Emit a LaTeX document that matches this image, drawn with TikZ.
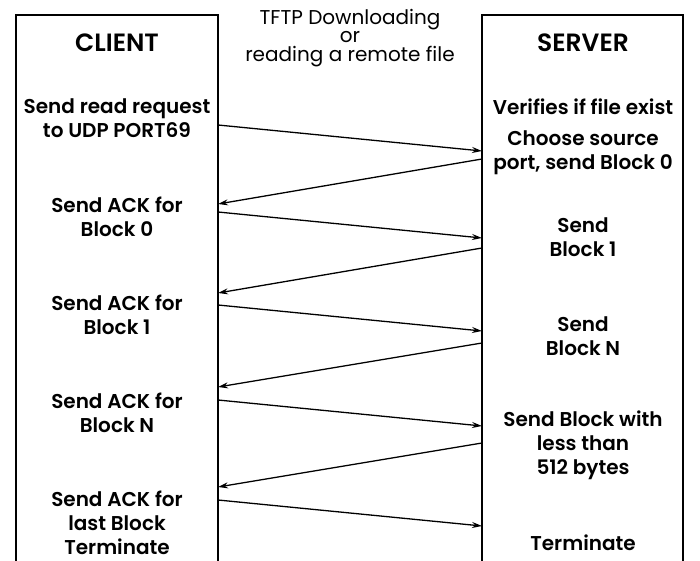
\documentclass[tikz,border=0pt]{standalone}
\usepackage{fontspec}
\setmainfont{Poppins}[BoldFont={* SemiBold}]
\usetikzlibrary{arrows.meta}
\tikzset{
  lab/.style={font=\bfseries\fontsize{20}{24}\selectfont, align=center, inner sep=0pt},
  head/.style={font=\bfseries\fontsize{25}{28}\selectfont, inner sep=0pt},
  ttl/.style={font=\fontsize{20}{18.5}\selectfont, align=center, inner sep=0pt},
  msg/.style={-{Stealth[length=10pt,width=6pt]}, line width=1.3pt},
  box/.style={line width=2pt}
}
\begin{document}
\begin{tikzpicture}[x=1pt,y=-1pt]
\useasboundingbox (0,0) rectangle (700,561);
% boxes
\draw[box] (16,562) -- (16,15) -- (218,15) -- (218,562);
\draw[box] (482,562) -- (482,15) -- (683,15) -- (683,562);
% headings and title
\node[head] (clienthd) at (117,43) {CLIENT};
\node[head] (serverhd) at (583,43) {SERVER};
\node[ttl] (title) at (350,38) {TFTP Downloading\\or\\reading a remote file};
% client texts
\node[lab] (c0) at (117,118.5) {Send read request\\to UDP PORT69};
\node[lab] (c1) at (117,217) {Send ACK for\\Block 0};
\node[lab] (c2) at (117,315) {Send ACK for\\Block 1};
\node[lab] (c3) at (117,413) {Send ACK for\\Block N};
\node[lab] (c4) at (117,523) {Send ACK for\\last Block\\Terminate};
% server texts
\node[lab] (s0) at (583,107) {Verifies if file exist};
\node[lab] (s1) at (583,153) {Choose source\\port, send Block 0};
\node[lab] (s2) at (583,237) {Send\\Block 1};
\node[lab] (s3) at (583,336) {Send\\Block N};
\node[lab] (s4) at (583,445) {Send Block with\\less than\\512 bytes};
\node[lab] (s5) at (583,543) {Terminate};
% connector end points on the box edges
\coordinate (a1) at (218,125); \coordinate (b1) at (482,151);
\coordinate (b2) at (482,159); \coordinate (a2) at (218,204);
\coordinate (a3) at (218,212); \coordinate (b3) at (482,238);
\coordinate (b4) at (482,248); \coordinate (a4) at (218,293);
\coordinate (a5) at (218,305); \coordinate (b5) at (482,331);
\coordinate (b6) at (482,343); \coordinate (a6) at (218,387);
\coordinate (a7) at (218,400); \coordinate (b7) at (482,426);
\coordinate (b8) at (482,443); \coordinate (a8) at (218,487);
\coordinate (a9) at (218,500); \coordinate (b9) at (482,526);
\draw[msg] (a1) -- (b1);
\draw[msg] (b2) -- (a2);
\draw[msg] (a3) -- (b3);
\draw[msg] (b4) -- (a4);
\draw[msg] (a5) -- (b5);
\draw[msg] (b6) -- (a6);
\draw[msg] (a7) -- (b7);
\draw[msg] (b8) -- (a8);
\draw[msg] (a9) -- (b9);
\end{tikzpicture}
\end{document}
